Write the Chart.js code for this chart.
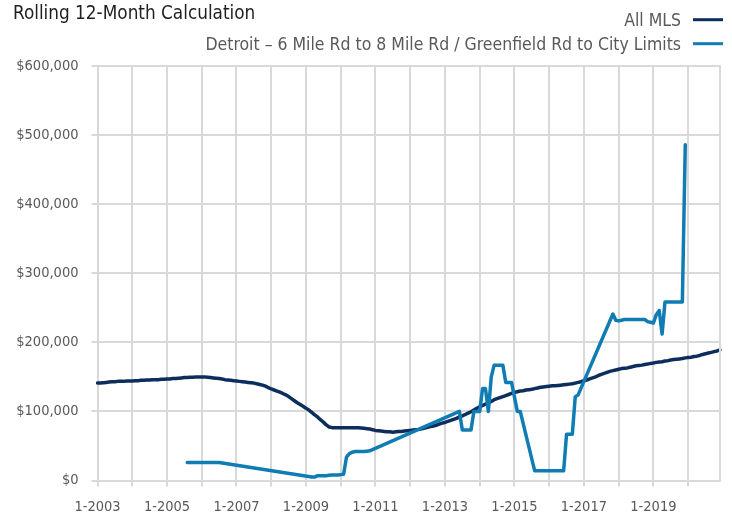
<!DOCTYPE html>
<html>
<head>
<meta charset="utf-8">
<script src="https://cdn.jsdelivr.net/npm/chart.js@4.4.1/dist/chart.umd.min.js"></script>
<style>
  html, body { margin: 0; padding: 0; background: #ffffff; }
  #wrap { width: 732px; height: 515px; }
</style>
</head>
<body>
<div id="wrap"><canvas id="c" width="732" height="515"></canvas></div>
<script>
// ---------- DATA (values in $ thousands) ----------
const years = [2003,2004,2005,2006,2007,2008,2009,2010,2011,2012,2013,2014,2015,2016,2017,2018,2019,2020];
const categories = [];
years.forEach(y => { for (let m = 1; m <= 12; m++) categories.push(m + '-' + y); });

const xTickLabels = ['1-2003','1-2005','1-2007','1-2009','1-2011','1-2013','1-2015','1-2017','1-2019'];
const yTickValues = [0,100,200,300,400,500,600];

const allMLS = [
  141,141,141.5,142,142.5,143,143,143.5,143.5,143.5,144,144,            // 2003
  144,144.5,144.5,145,145,145.5,145.5,146,146,146,146.5,146.5,         // 2004
  147,147,147.5,147.5,148,148.5,149,149,149.5,149.5,150,150,           // 2005
  150,150,149.5,149,148.5,148,147.5,147,146,145.5,145,144.5,           // 2006
  144,143.5,143,142.5,142,141.5,141,140,139,138,136.5,134.5,           // 2007
  132.5,131,129.5,128,126,124,121.5,118.5,115.5,112.5,110,107.5,       // 2008
  104.5,102,98.5,95,92,88,84.5,80.5,77.5,76.5,76.5,76.5,               // 2009
  76.5,76.5,76.5,76.5,76.5,76.5,76.5,76,75.5,75,74.5,73.5,             // 2010
  72.5,72,71.5,71,70.5,70.5,70,70.5,71,71,71.5,72,                     // 2011
  72.5,73,73.5,74,75,76,77,78,79,80,81.5,83,                           // 2012
  84,85.5,87,88.5,90,92,93.5,95.5,97.5,99.5,102,104.5,                 // 2013
  106.5,108.5,110.5,112.5,114.5,117,118.5,120,121.5,123,124.5,126,     // 2014
  127.5,128.5,129.5,130,131,131.5,132,133,134,135,135.5,136,           // 2015
  136.5,137,137,137.5,138,138.5,139,139.5,140,141,142,143,             // 2016
  144.5,145.5,147,148.5,150,152,153.5,155,156.5,158,159,160,           // 2017
  161,162,162.5,163,164,165,166,166.5,167,168,168.5,169.5,             // 2018
  170,171,171.5,172,173,173.5,174.5,175,175.5,176,176.5,177.5,         // 2019
  178,178.5,179.5,180,181,182.5,183.5,184.5,185.5,186.5,187.5,189      // 2020
];

const n = null;
const detroit = [
  n,n,n,n,n,n,n,n,n,n,n,n,                                   // 2003
  n,n,n,n,n,n,n,n,n,n,n,n,                                   // 2004
  n,n,n,n,n,n,n,26,26,26,26,26,                              // 2005
  26,26,26,26,26,26,26,n,n,n,n,n,                            // 2006
  n,n,n,n,n,n,n,n,n,n,n,n,                                   // 2007
  n,n,n,n,n,n,n,n,n,n,n,n,                                   // 2008
  n,n,5,5,7,7,7,7,7.5,8,8,8,                                 // 2009
  8.5,9,34,39,41,42,42,42,42,42.5,43,n,                      // 2010
  n,n,n,n,n,n,n,n,n,n,n,n,                                   // 2011
  n,n,n,n,n,n,n,n,n,n,n,n,                                   // 2012
  n,n,n,n,n,100,73,73,73,73,100,100,                         // 2013
  100,133,133,100,150,167,167,167,167,142,142,142,           // 2014
  121,100,100,n,n,n,n,14,14,14,14,14,                        // 2015
  14,14,14,14,14,14,67,67,67,121,124,n,                      // 2016
  n,n,n,n,n,n,n,n,n,n,241,232,                               // 2017
  231,232,233,233,233,233,233,233,233,233,230,229,           // 2018
  228,240,246,212,258.5,258.5,258.5,258.5,258.5,258.5,258.5,486, // 2019
  n,n,n,n,n,n,n,n,n,n,n,n                                    // 2020
];

const titleText = 'Rolling 12-Month Calculation';
const seriesNames = ['All MLS', 'Detroit \u2013 6 Mile Rd to 8 Mile Rd / Greenfield Rd to City Limits'];
const seriesColors = ['#0d2d5c', '#0f7cb3'];

// ---------- STYLE ----------
const FONT = "'Liberation Sans Narrow', 'Arial Narrow', 'DejaVu Sans Condensed', sans-serif";
const GRID = '#d9d9d9';
const TXT = '#595959';

const overlay = {
  id: 'overlay',
  afterDraw(chart) {
    const ctx = chart.ctx;
    const a = chart.chartArea;
    ctx.save();
    // right border of plot
    ctx.strokeStyle = GRID; ctx.lineWidth = 2;
    ctx.beginPath(); ctx.moveTo(a.right, a.top - 1); ctx.lineTo(a.right, a.bottom); ctx.stroke();
    // title
    ctx.font = '18.8px ' + FONT;
    ctx.fillStyle = '#1f1f1f';
    ctx.textAlign = 'left';
    ctx.textBaseline = 'alphabetic';
    ctx.fillText(titleText, 13, 18.5);
    // legend
    ctx.font = '17.5px ' + FONT;
    ctx.textAlign = 'right';
    chart.data.datasets.slice().sort((p, q) => p.legendIndex - q.legendIndex).forEach((ds, i) => {
      const base = 26 + i * 24;
      ctx.fillStyle = TXT;
      ctx.fillText(ds.label, 681, base);
      ctx.strokeStyle = ds.borderColor; ctx.lineWidth = 3;
      ctx.beginPath(); ctx.moveTo(693, base - 6.3); ctx.lineTo(723, base - 6.3); ctx.stroke();
    });
    ctx.restore();
  }
};

new Chart(document.getElementById('c'), {
  type: 'line',
  data: {
    labels: categories,
    datasets: [
      { label: seriesNames[0], legendIndex: 0, data: allMLS, borderColor: seriesColors[0], borderWidth: 3.5,
        pointRadius: 0, tension: 0, borderJoinStyle: 'round', borderCapStyle: 'round', order: 2 },
      { label: seriesNames[1], legendIndex: 1, data: detroit, borderColor: seriesColors[1], borderWidth: 3.5,
        pointRadius: 0, tension: 0, spanGaps: true, borderJoinStyle: 'round', borderCapStyle: 'round', order: 1 }
    ]
  },
  options: {
    responsive: false,
    animation: false,
    layout: { padding: { top: 66, right: 10, left: 0, bottom: 0 } },
    plugins: { legend: { display: false }, title: { display: false }, tooltip: { enabled: false } },
    scales: {
      x: {
        type: 'category',
        offset: false,
        afterFit(s) { s.height = 34.5; },
        border: { color: GRID, width: 2 },
        grid: {
          color: c => (c.index % 12 === 0 ? GRID : 'rgba(0,0,0,0)'),
          lineWidth: 2,
          tickLength: 6,
          drawOnChartArea: true
        },
        ticks: {
          autoSkip: false,
          maxRotation: 0,
          minRotation: 0,
          padding: 12,
          color: TXT,
          font: { family: FONT, size: 14.5 },
          callback(v) { const l = this.getLabelForValue(v); return xTickLabels.includes(l) ? l : ''; }
        }
      },
      y: {
        min: 0, max: 600,
        afterFit(s) { s.width = 97.5; },
        border: { color: GRID, width: 2 },
        grid: { color: GRID, lineWidth: 2, tickLength: 6 },
        afterBuildTicks(s) { s.ticks = yTickValues.map(v => ({ value: v })); },
        ticks: {
          padding: 13,
          color: TXT,
          font: { family: FONT, size: 14.5 },
          callback: v => '$' + (v * 1000).toLocaleString('en-US')
        }
      }
    }
  },
  plugins: [overlay]
});
</script>
</body>
</html>
